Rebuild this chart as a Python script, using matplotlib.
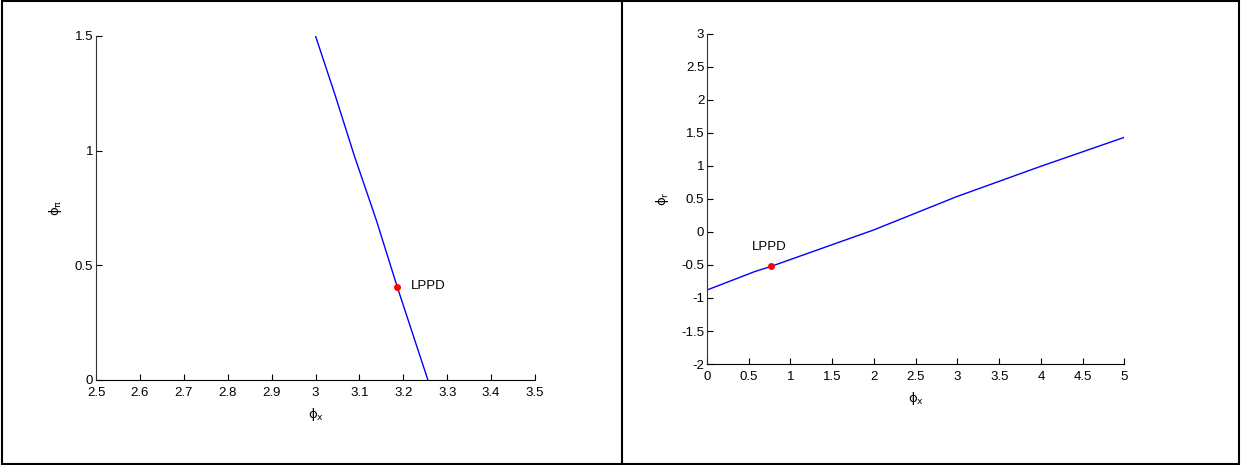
import matplotlib.pyplot as plt
from matplotlib.lines import Line2D
from matplotlib.patches import Rectangle

plt.rcParams['font.family'] = ['Liberation Sans', 'DejaVu Sans']
plt.rcParams['mathtext.fontset'] = 'dejavusans'

# left panel: phi_pi against phi_x
left_x = [3.0, 3.045, 3.088, 3.138, 3.186, 3.256]
left_y = [1.5, 1.24, 0.98, 0.70, 0.407, 0.0]
left_pt = (3.186, 0.407)
left_xticks = [2.5, 2.6, 2.7, 2.8, 2.9, 3, 3.1, 3.2, 3.3, 3.4, 3.5]
left_yticks = [0, 0.5, 1, 1.5]

# right panel: phi_r against phi_x
right_x = [0.0, 0.571, 0.77, 1.994, 2.989, 3.986, 5.0]
right_y = [-0.879, -0.60, -0.52, 0.03, 0.535, 0.99, 1.435]
right_pt = (0.77, -0.52)
right_xticks = [0, 0.5, 1, 1.5, 2, 2.5, 3, 3.5, 4, 4.5, 5]
right_yticks = [-2, -1.5, -1, -0.5, 0, 0.5, 1, 1.5, 2, 2.5, 3]

fig = plt.figure(figsize=(12.41, 4.65), dpi=100)
ax1 = fig.add_axes([0.0774, 0.1828, 0.3537, 0.7398])
ax2 = fig.add_axes([0.5697, 0.2172, 0.3364, 0.7097])


def style(ax, xt, yt):
    for s in ['top', 'right']:
        ax.spines[s].set_visible(False)
    ax.spines['left'].set_color('#333333')
    ax.spines['bottom'].set_color('black')
    ax.set_xticks(xt)
    ax.set_yticks(yt)
    ax.set_xticklabels([f'{v:g}' for v in xt])
    ax.set_yticklabels([f'{v:g}' for v in yt])
    ax.tick_params(direction='in', length=4, width=0.8, labelsize=9.5)
    ax.tick_params(axis='x', pad=5)
    ax.tick_params(axis='y', pad=2)
    ax.set_xlim(xt[0], xt[-1])
    ax.set_ylim(yt[0], yt[-1])


style(ax1, left_xticks, left_yticks)
ax1.plot(left_x, left_y, color='blue', lw=1.0)
ax1.plot(*left_pt, 'o', color='red', ms=4)
ax1.text(left_pt[0] + 0.032, left_pt[1] + 0.005, 'LPPD', fontsize=9.5, va='center')
ax1.set_xlabel(r'$\mathrm{\phi_x}$', fontsize=9.5, labelpad=5)
ax1.set_ylabel(r'$\mathrm{\phi_\pi}$', fontsize=9.5, labelpad=8)

style(ax2, right_xticks, right_yticks)
ax2.plot(right_x, right_y, color='blue', lw=1.0)
ax2.plot(*right_pt, 'o', color='red', ms=4)
ax2.text(0.54, -0.22, 'LPPD', fontsize=9.5, va='center')
ax2.set_xlabel(r'$\mathrm{\phi_x}$', fontsize=9.5, labelpad=5)
ax2.set_ylabel(r'$\mathrm{\phi_r}$', fontsize=9.5, labelpad=7)

# outer frame and divider between the panels
fig.add_artist(Rectangle((0.002, 0.003), 0.996, 0.994, transform=fig.transFigure,
                         fill=False, edgecolor='black', lw=1.5))
fig.add_artist(Line2D([0.5012, 0.5012], [0, 1], transform=fig.transFigure,
                      color='black', lw=1.5))

fig.savefig('out.png', dpi=100)
